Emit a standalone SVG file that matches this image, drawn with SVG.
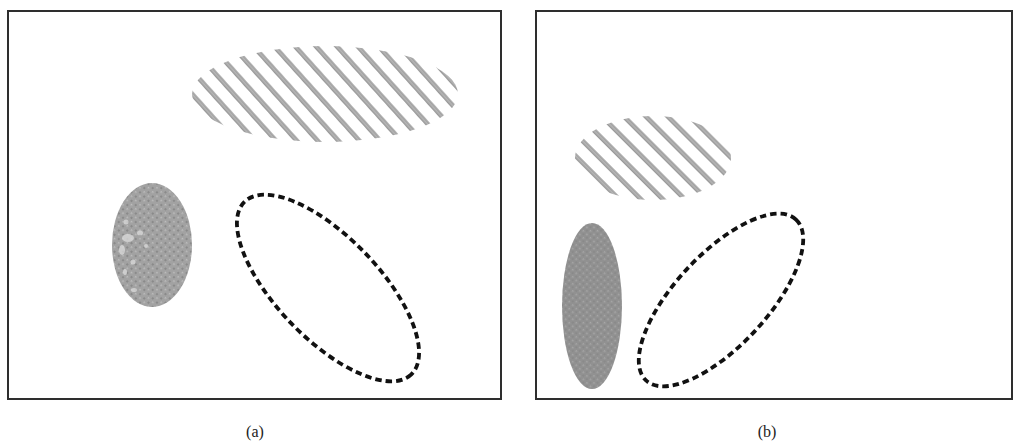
<svg xmlns="http://www.w3.org/2000/svg" width="1019" height="447" viewBox="0 0 1019 447">
  <style>
    .frame { fill: #fff; stroke: #2e2e2e; stroke-width: 2; }
    .dash { fill: none; stroke: #111; stroke-width: 3.8; stroke-dasharray: 6.5 4; stroke-linecap: butt; }
    .label { font-family: "Liberation Serif", serif; font-size: 16px; fill: #222; text-anchor: middle; }
  </style>
  <defs>
    <pattern id="hatchA" patternUnits="userSpaceOnUse" width="15.5" height="15.5" patternTransform="rotate(-42)">
      <rect x="0" y="0" width="4.6" height="15.5" fill="#9a9a9a"/>
      <rect x="1.4" y="0" width="1.8" height="15.5" fill="#b6b6b6"/>
    </pattern>
    <pattern id="hatchB" patternUnits="userSpaceOnUse" width="15.5" height="15.5" patternTransform="rotate(-45)">
      <rect x="0" y="0" width="4.6" height="15.5" fill="#9a9a9a"/>
      <rect x="1.4" y="0" width="1.8" height="15.5" fill="#b6b6b6"/>
    </pattern>
    <pattern id="speckle" patternUnits="userSpaceOnUse" width="6" height="6" patternTransform="rotate(45)">
      <rect width="6" height="6" fill="#a2a2a2"/>
      <rect x="0" y="0" width="2" height="2" fill="#8a8a8a"/>
      <rect x="3" y="3" width="1.5" height="1.5" fill="#c0c0c0"/>
    </pattern>
    <pattern id="speckle2" patternUnits="userSpaceOnUse" width="5" height="5" patternTransform="rotate(45)">
      <rect width="5" height="5" fill="#919191"/>
      <rect x="0" y="0" width="1.5" height="1.5" fill="#a8a8a8"/>
      <rect x="2.5" y="2.5" width="1.2" height="1.2" fill="#7e7e7e"/>
    </pattern>
  </defs>

  <g id="panel-a">
    <rect class="frame" x="8" y="11" width="493" height="388"/>
    <g id="a-hatched">
      <ellipse cx="325" cy="94" rx="133" ry="48" fill="url(#hatchA)"/>
    </g>
    <g id="a-gray">
      <ellipse cx="152" cy="245" rx="40" ry="62" fill="url(#speckle)"/>
      <g fill="#dcdcdc" opacity="0.75">
        <ellipse cx="128" cy="238" rx="6" ry="4"/>
        <ellipse cx="140" cy="233" rx="3" ry="2.5"/>
        <ellipse cx="122" cy="250" rx="3" ry="5"/>
        <ellipse cx="133" cy="262" rx="2.5" ry="2.5"/>
        <ellipse cx="125" cy="272" rx="2" ry="3"/>
        <ellipse cx="134" cy="290" rx="3" ry="2"/>
        <ellipse cx="126" cy="222" rx="2.5" ry="2.5"/>
        <ellipse cx="146" cy="246" rx="2" ry="2"/>
      </g>
    </g>
    <g id="a-dashed">
      <ellipse class="dash" cx="328" cy="288" rx="120" ry="51" transform="rotate(46 328 288)"/>
    </g>
    <text class="label" x="255" y="437">(a)</text>
  </g>

  <g id="panel-b">
    <rect class="frame" x="536" y="11" width="476" height="388"/>
    <g id="b-hatched">
      <ellipse cx="653" cy="158" rx="78" ry="42" fill="url(#hatchB)"/>
    </g>
    <g id="b-gray">
      <ellipse cx="592" cy="306" rx="30" ry="83" fill="url(#speckle2)"/>
    </g>
    <g id="b-dashed">
      <ellipse class="dash" cx="721" cy="300" rx="110" ry="46" transform="rotate(-47 721 300)"/>
    </g>
    <text class="label" x="767" y="437">(b)</text>
  </g>
</svg>
